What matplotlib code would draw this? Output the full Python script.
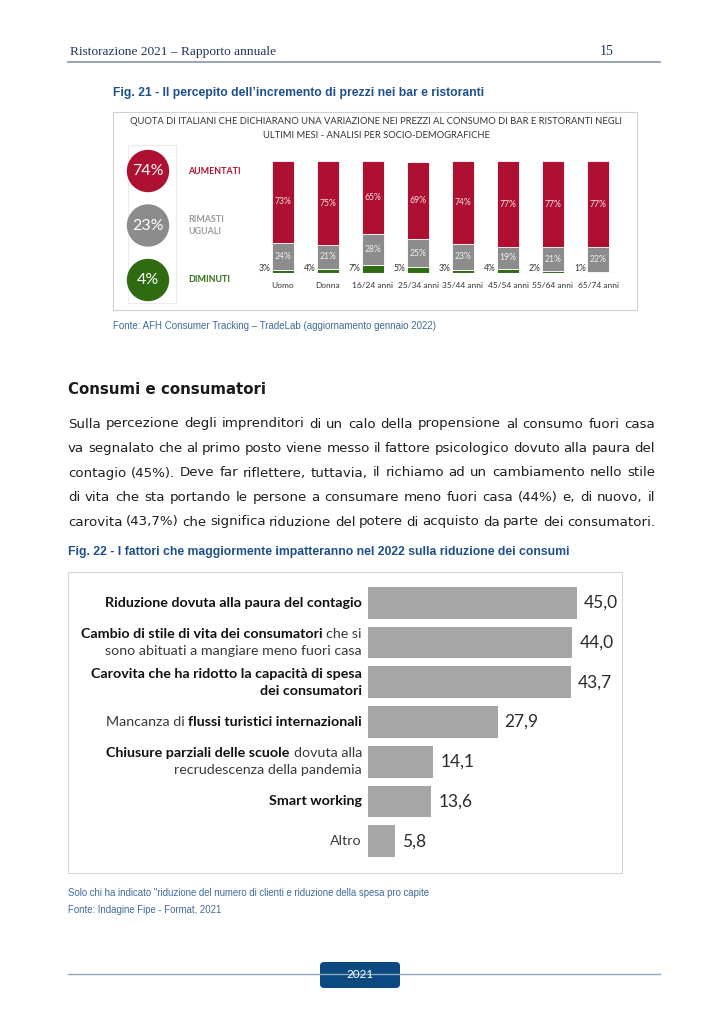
import matplotlib.pyplot as plt
from matplotlib.patches import Rectangle, Circle, FancyBboxPatch

W, H = 724, 1024

# Fig. 21 - perceived price change by socio-demographic group
groups = ["Uomo", "Donna", "16/24 anni", "25/34 anni", "35/44 anni",
          "45/54 anni", "55/64 anni", "65/74 anni"]
aumentati = [73, 75, 65, 69, 74, 77, 77, 77]
rimasti = [24, 21, 28, 25, 23, 19, 21, 22]
diminuti = [3, 4, 7, 5, 3, 4, 2, 1]
totals = [74, 23, 4]
total_names = ["AUMENTATI", "RIMASTI\nUGUALI", "DIMINUTI"]

# Fig. 22 - factors reducing consumption in 2022
factor_values = [45.0, 44.0, 43.7, 27.9, 14.1, 13.6, 5.8]
factor_labels = [
    [[("Riduzione dovuta alla paura del contagio", "bold")]],
    [[("Cambio di stile di vita dei consumatori", "bold"), ("che si", "normal")],
     [("sono abituati a mangiare meno fuori casa", "normal")]],
    [[("Carovita che ha ridotto la capacità di spesa", "bold")],
     [("dei consumatori", "bold")]],
    [[("Mancanza di", "normal"), ("flussi turistici internazionali", "bold")]],
    [[("Chiusure parziali delle scuole", "bold"), ("dovuta alla", "normal")],
     [("recrudescenza della pandemia", "normal")]],
    [[("Smart working", "bold")]],
    [[("Altro", "normal")]],
]

paragraph = [
    "Sulla percezione degli imprenditori di un calo della propensione al consumo fuori casa",
    "va segnalato che al primo posto viene messo il fattore psicologico dovuto alla paura del",
    "contagio (45%). Deve far riflettere, tuttavia, il richiamo ad un cambiamento nello stile",
    "di vita che sta portando le persone a consumare meno fuori casa (44%) e, di nuovo, il",
    "carovita (43,7%) che significa riduzione del potere di acquisto da parte dei consumatori.",
]

RED = "#ad1030"
GREY = "#8c8c8c"
GREEN = "#2f6b10"
BLUE = "#1d4f8a"
SRC = "#3f6b9a"

fig = plt.figure(figsize=(W / 100, H / 100), dpi=100)
fig.patch.set_facecolor("white")
renderer = fig.canvas.get_renderer()

page = fig.add_axes([0, 0, 1, 1])
page.set_xlim(0, W)
page.set_ylim(H, 0)
page.axis("off")


def px_axes(left, top, right, bottom):
    return fig.add_axes([left / W, 1 - bottom / H, (right - left) / W, (bottom - top) / H])


def width_of(t):
    return t.get_window_extent(renderer=renderer).width


# header
page.text(70, 55, "Ristorazione 2021 – Rapporto annuale", family="Liberation Serif",
          fontsize=9.6, color="#22335a", va="baseline")
page.text(600, 55, "15", family="Liberation Serif", fontsize=10, color="#22335a", va="baseline")
page.plot([68, 660], [62, 62], color="#8d9db0", lw=1.3)

# ---- Fig. 21 ----
page.text(113, 93, "Fig. 21 - Il percepito dell’incremento di prezzi nei bar e ristoranti",
          family="Liberation Sans", weight="bold", fontsize=8.7, color=BLUE, va="center")
page.add_patch(Rectangle((113, 112), 524, 198, fill=False, ec="#cfcfcf", lw=0.8))
page.text(376, 122, "QUOTA DI ITALIANI CHE DICHIARANO UNA VARIAZIONE NEI PREZZI AL CONSUMO DI BAR E RISTORANTI NEGLI",
          family="Lato", fontsize=6.75, color="#333333", ha="center", va="center")
page.text(376, 135, "ULTIMI MESI - ANALISI PER SOCIO-DEMOGRAFICHE",
          family="Lato", fontsize=6.75, color="#333333", ha="center", va="center")

page.add_patch(Rectangle((128, 145), 48, 158, fill=False, ec="#ececec", lw=0.8))
circle_colors = [RED, GREY, GREEN]
for k, (val, name) in enumerate(zip(totals, total_names)):
    cy = 171 + k * 54.5
    page.add_patch(Circle((148, cy), 20.5, color=circle_colors[k]))
    page.text(148, cy, f"{val}%", family="Lato", fontsize=11.5, color="white",
              ha="center", va="center")
    page.text(188, cy, name, family="Lato", weight="bold", fontsize=6.4,
              color=circle_colors[k] if k != 1 else "#9a9a9a", ha="left", va="center",
              linespacing=1.5)

ax1 = px_axes(242.5, 161, 636.25, 273)
x = list(range(len(groups)))
bottoms_r = [d + r for d, r in zip(diminuti, rimasti)]
ax1.bar(x, diminuti, width=0.51, color=GREEN, ec="white", lw=0.6)
ax1.bar(x, rimasti, bottom=diminuti, width=0.51, color=GREY, ec="white", lw=0.6)
ax1.bar(x, aumentati, bottom=bottoms_r, width=0.51, color=RED, ec="white", lw=0.6)
ax1.set_xlim(-0.9, 7.85)
ax1.set_ylim(0, 100)
ax1.axhline(0, color="#d9d9d9", lw=0.8, xmin=0.02, xmax=0.96)
ax1.axis("off")
for i in x:
    ax1.text(i, bottoms_r[i] + aumentati[i] / 2, f"{aumentati[i]}%", family="Lato",
             fontsize=6.2, color="#f6dde2", ha="center", va="center")
    ax1.text(i, diminuti[i] + rimasti[i] / 2, f"{rimasti[i]}%", family="Lato",
             fontsize=6.2, color="#eeeeee", ha="center", va="center")
    ax1.text(i - 0.27, 4, f"{diminuti[i]}%", family="Lato", fontsize=6.2,
             color="#333333", ha="right", va="center")
    ax1.text(i, -11, groups[i], family="Lato", fontsize=6.0, color="#333333",
             ha="center", va="center", clip_on=False)

page.text(113, 326, "Fonte: AFH Consumer Tracking – TradeLab (aggiornamento gennaio 2022)",
          family="Liberation Sans", fontsize=7.0, color=SRC, va="center")

# ---- body text ----
page.text(68, 389, "Consumi e consumatori", family="DejaVu Sans", weight="bold",
          fontsize=10.8, color="#1a1a1a", va="center")
left, right = 68, 655
for n, line in enumerate(paragraph):
    y = 424 + n * 24.5
    words = line.split(" ")
    texts = [page.text(0, y, w, family="DejaVu Sans", fontsize=9.6, color="#1f1f1f", va="center")
             for w in words]
    widths = [width_of(t) for t in texts]
    gap = (right - left - sum(widths)) / (len(words) - 1)
    xpos = left
    for t, w in zip(texts, widths):
        t.set_x(xpos)
        xpos += w + gap

# ---- Fig. 22 ----
page.text(68, 552, "Fig. 22 - I fattori che maggiormente impatteranno nel 2022 sulla riduzione dei consumi",
          family="Liberation Sans", weight="bold", fontsize=8.8, color=BLUE, va="center")
page.add_patch(Rectangle((68, 572), 554, 301, fill=False, ec="#d6d6d6", lw=0.8))

ax2 = px_axes(368, 579, 618.8, 865)
ypos = list(range(len(factor_values)))
ax2.barh(ypos, factor_values, height=0.8, color="#a6a6a6")
ax2.set_xlim(0, 54)
ax2.set_ylim(6.6, -0.6)
ax2.axis("off")
for i, v in enumerate(factor_values):
    ax2.annotate(f"{v:.1f}".replace(".", ","), (v, i), xytext=(7, 0), textcoords="offset pixels",
                 family="Lato", fontsize=12.5, color="#2a2a2a",
                 ha="left", va="center")
    lines = factor_labels[i]
    nl = len(lines)
    for j, segs in enumerate(lines):
        dy = (nl - 1) * 8.5 - j * 17
        xoff = -6
        for text, weight in reversed(segs):
            t = ax2.annotate(text, (0, i), xytext=(xoff, dy), textcoords="offset pixels",
                             family="Lato", weight=weight, fontsize=10.3,
                             color="#111111" if weight == "bold" else "#3a3a3a",
                             ha="right", va="center", annotation_clip=False)
            xoff -= width_of(t) + 4

page.text(68, 893, "Solo chi ha indicato \"riduzione del numero di clienti e riduzione della spesa pro capite",
          family="Liberation Sans", fontsize=6.9, color=SRC, va="center")
page.text(68, 910, "Fonte: Indagine Fipe - Format, 2021",
          family="Liberation Sans", fontsize=6.9, color=SRC, va="center")

# footer
page.plot([68, 660], [974, 974], color="#8ea6ba", lw=1.0)
page.add_patch(FancyBboxPatch((320, 962), 80, 26, boxstyle="round,pad=0,rounding_size=4",
                              fc="#0b4a80", ec="none"))
page.text(360, 975, "2021", family="Lato", fontsize=8.5, color="white", ha="center", va="center")

fig.savefig("out.png", dpi=100)
